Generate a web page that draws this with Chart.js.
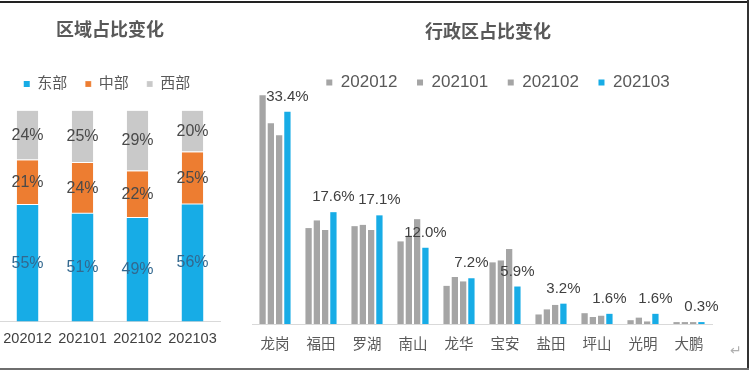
<!DOCTYPE html>
<html>
<head>
<meta charset="utf-8">
<script src="https://cdn.jsdelivr.net/npm/chart.js@4.4.0/dist/chart.umd.min.js"></script>
<style>
  body { margin: 0; background: #fff; }
  #page { position: relative; width: 752px; height: 377px; overflow: hidden; background: #fff; }
  .box { position: absolute; top: 2px; height: 366px; }
  #leftBox { left: 0; width: 245px; }
  #rightBox { left: 245px; width: 503px; }
  .rule { position: absolute; }
  #topRule { left: 0; top: 1px; width: 749px; height: 2px; background: #222; }
  #rightRule { left: 747px; top: 0; width: 2px; height: 370px; background: #333; }
  #bottomRule { left: 0; top: 368px; width: 749px; height: 2px; background: #6e6e6e; }
  #enter { position: absolute; left: 730px; top: 342px; color: #b0b0b0; font: 14px 'DejaVu Sans', sans-serif; }
</style>
</head>
<body>
<div id="page">
  <div class="box" id="leftBox"><canvas id="regionChart"></canvas></div>
  <div class="box" id="rightBox"><canvas id="districtChart"></canvas></div>
  <div class="rule" id="topRule"></div>
  <div class="rule" id="rightRule"></div>
  <div class="rule" id="bottomRule"></div>
  <span id="enter">&#8629;</span>
</div>
<script>
// 区域占比 (stacked, %)
var months = ['202012', '202101', '202102', '202103'];
var east = [55.2, 51.1, 49.1, 55.5];
var middle = [21.2, 24.1, 22.1, 24.8];
var west = [23.6, 24.8, 28.8, 19.7];

// 行政区占比 (%)
var districts = ['龙岗', '福田', '罗湖', '南山', '龙华', '宝安', '盐田', '坪山', '光明', '大鹏'];
var d202012 = [36.0, 15.1, 15.4, 13.0, 6.0, 9.7, 1.5, 1.7, 0.6, 0.3];
var d202101 = [31.6, 16.3, 15.6, 13.9, 7.4, 10.0, 2.3, 1.1, 1.0, 0.3];
var d202102 = [29.7, 14.8, 14.8, 16.5, 6.7, 11.8, 3.0, 1.3, 0.4, 0.3];
var d202103 = [33.4, 17.6, 17.1, 12.0, 7.2, 5.9, 3.2, 1.6, 1.6, 0.3];

var cjk = "'Liberation Sans', 'Noto Sans CJK SC', sans-serif";
var narrow = "'Liberation Sans Narrow', 'Liberation Sans', sans-serif";
var textGrey = '#595959';
var blue = '#17ACE6';

// change the gap under the legend, and nudge title / legend sideways
function blockTweaks(extra, titleShift, legendShift) {
  return {
    id: 'blockTweaks',
    beforeInit: function(chart) {
      var fit = chart.legend.fit;
      chart.legend.fit = function() {
        fit.bind(chart.legend)();
        this.height += extra;
      };
    },
    afterLayout: function(chart) {
      chart.titleBlock.left += titleShift;
      chart.titleBlock.right += titleShift;
      chart.legend.left += legendShift;
      chart.legend.right += legendShift;
    }
  };
}

// value labels drawn by hand, no datalabels plugin here
var valueLabels = {
  id: 'valueLabels',
  afterDatasetsDraw: function(chart) {
    var ctx = chart.ctx;
    chart.data.datasets.forEach(function(ds, i) {
      if (!ds.labelMode) return;
      var meta = chart.getDatasetMeta(i);
      ctx.save();
      ctx.font = ds.labelFont;
      ctx.fillStyle = ds.labelColor;
      ctx.textAlign = 'center';
      ctx.textBaseline = 'middle';
      meta.data.forEach(function(bar, j) {
        var v = ds.data[j];
        if (ds.labelMode === 'center') {
          ctx.fillText(Math.round(v) + '%', bar.x, (bar.y + bar.base) / 2);
        } else {
          ctx.fillText(v.toFixed(1) + '%', bar.x, bar.y - 15);
        }
      });
      ctx.restore();
    });
  }
};

Chart.defaults.font.family = cjk;
Chart.defaults.color = textGrey;
Chart.defaults.animation = false;

new Chart('regionChart', {
  type: 'bar',
  data: {
    labels: months,
    datasets: [
      { label: '东部', data: east, backgroundColor: blue, labelMode: 'center', labelFont: '16px ' + narrow, labelColor: '#33688f' },
      { label: '中部', data: middle, backgroundColor: '#ED7D31', borderColor: '#ffffff', borderWidth: { top: 0, bottom: 1, left: 0, right: 0 }, borderSkipped: false, labelMode: 'center', labelFont: '16px ' + narrow, labelColor: '#4a4a4a' },
      { label: '西部', data: west, backgroundColor: '#C9C9C9', borderColor: '#ffffff', borderWidth: { top: 0, bottom: 1, left: 0, right: 0 }, borderSkipped: false, labelMode: 'center', labelFont: '16px ' + narrow, labelColor: '#4a4a4a' }
    ]
  },
  options: {
    responsive: true,
    maintainAspectRatio: false,
    layout: { padding: { left: 0, right: 25, top: 0, bottom: 12 } },
    datasets: { bar: { barPercentage: 0.39, categoryPercentage: 1 } },
    plugins: {
      title: {
        display: true, text: '区域占比变化', color: textGrey,
        font: { size: 18, weight: 'bold', family: "'Noto Sans CJK SC', sans-serif" },
        padding: { top: 16, bottom: 19 }
      },
      legend: {
        labels: { boxWidth: 6, boxHeight: 6, padding: 18, color: textGrey, font: { size: 15 } }
      },
      tooltip: { enabled: false }
    },
    scales: {
      x: {
        stacked: true,
        grid: { color: 'transparent', drawTicks: false },
        border: { display: true, color: '#d9d9d9' },
        ticks: { padding: 0, color: '#404040', font: { size: 14.5, lineHeight: '34.6px' } }
      },
      y: { stacked: true, display: false, min: 0, max: 100 }
    }
  },
  plugins: [blockTweaks(9, 0, -3), valueLabels]
});

var lastSet = { label: '202103', data: d202103, backgroundColor: blue, labelMode: 'top', labelFont: '15px ' + narrow, labelColor: '#404040' };

new Chart('districtChart', {
  type: 'bar',
  data: {
    labels: districts,
    datasets: [
      { label: '202012', data: d202012, backgroundColor: '#A5A5A5' },
      { label: '202101', data: d202101, backgroundColor: '#A5A5A5' },
      { label: '202102', data: d202102, backgroundColor: '#A5A5A5' },
      lastSet
    ]
  },
  options: {
    responsive: true,
    maintainAspectRatio: false,
    layout: { padding: { left: 7, right: 36, top: 0, bottom: 3 } },
    datasets: { bar: { barPercentage: 0.76, categoryPercentage: 0.72 } },
    plugins: {
      title: {
        display: true, text: '行政区占比变化', color: textGrey,
        font: { size: 18, weight: 'bold', family: "'Noto Sans CJK SC', sans-serif" },
        padding: { top: 18, bottom: 13 }
      },
      legend: {
        labels: { boxWidth: 6, boxHeight: 6, padding: 19.5, color: textGrey, font: { size: 17 } }
      },
      tooltip: { enabled: false }
    },
    scales: {
      x: {
        grid: { color: 'transparent', drawTicks: false },
        border: { display: true, color: '#d9d9d9' },
        ticks: { padding: 0, color: textGrey, font: { size: 14.5, lineHeight: '41px' } }
      },
      y: { display: false, min: 0, max: 36.5 }
    }
  },
  plugins: [blockTweaks(-9, 6, 16), valueLabels]
});
</script>
</body>
</html>
